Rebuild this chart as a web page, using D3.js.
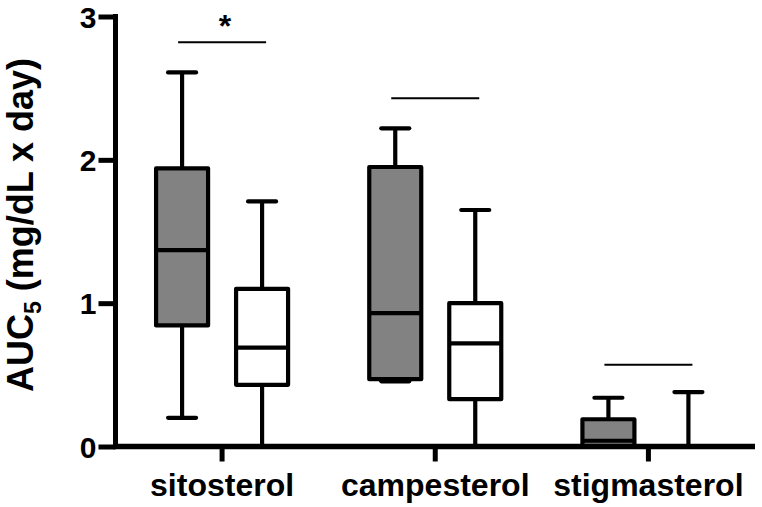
<!DOCTYPE html>
<html>
<head>
<meta charset="utf-8">
<script src="https://cdn.jsdelivr.net/npm/d3@7"></script>
<style>
  body { margin: 0; background: #fff; }
  svg { display: block; }
  text { font-family: "Liberation Sans", Arial, sans-serif; font-weight: bold; fill: #000; }
</style>
</head>
<body>
<svg id="chart" width="762" height="507"></svg>
<script>
// ---- data ----
const categories = ["sitosterol", "campesterol", "stigmasterol"];
const groups = ["gray", "white"];
const groupFill = ["#828282", "#ffffff"];
// box stats per category: [min, q1, median, q3, max]
const grayStats = [
  [0.20, 0.845, 1.37, 1.94, 2.61],
  [0.455, 0.47, 0.93, 1.95, 2.22],
  [0.0, 0.0, 0.04, 0.19, 0.34]
];
const whiteStats = [
  [0.0, 0.43, 0.69, 1.10, 1.71],
  [0.0, 0.33, 0.72, 1.00, 1.65],
  [0.0, 0.0, 0.0, 0.0, 0.38]
];
const sigLevels = [2.82, 2.43, 0.57];
const sigLabels = ["*", "", ""];
const yTicks = [0, 1, 2, 3];

// ---- scales ----
const svg = d3.select("#chart");
const y = d3.scaleLinear().domain([0, 3]).range([446.5, 16.5]);
const x = d3.scaleBand().domain(categories).range([115.5, 755]).padding(0);
const xg = d3.scalePoint().domain(groups).range([-40, 40]);
const boxW = 52, capW = 28, sw = 4.2;

// ---- boxes ----
const boxes = [];
categories.forEach((c, i) => {
  boxes.push({cat: c, g: "gray", s: grayStats[i], fill: groupFill[0]});
  boxes.push({cat: c, g: "white", s: whiteStats[i], fill: groupFill[1]});
});
const bx = d => x(d.cat) + x.bandwidth() / 2 + xg(d.g);

const bg = svg.append("g").selectAll("g").data(boxes).join("g");
// whiskers
bg.append("line").attr("x1", bx).attr("x2", bx)
  .attr("y1", d => y(d.s[0])).attr("y2", d => y(d.s[1]))
  .attr("stroke", "#000").attr("stroke-width", sw);
bg.append("line").attr("x1", bx).attr("x2", bx)
  .attr("y1", d => y(d.s[3])).attr("y2", d => y(d.s[4]))
  .attr("stroke", "#000").attr("stroke-width", sw);
// caps
bg.append("line").attr("x1", d => bx(d) - capW / 2).attr("x2", d => bx(d) + capW / 2)
  .attr("y1", d => y(d.s[0])).attr("y2", d => y(d.s[0]))
  .attr("stroke", "#000").attr("stroke-width", sw).attr("stroke-linecap", "round");
bg.append("line").attr("x1", d => bx(d) - capW / 2).attr("x2", d => bx(d) + capW / 2)
  .attr("y1", d => y(d.s[4])).attr("y2", d => y(d.s[4]))
  .attr("stroke", "#000").attr("stroke-width", sw).attr("stroke-linecap", "round");
// box
bg.append("rect").attr("x", d => bx(d) - boxW / 2).attr("width", boxW)
  .attr("y", d => y(d.s[3])).attr("height", d => y(d.s[1]) - y(d.s[3]))
  .attr("fill", d => d.fill).attr("stroke", "#000").attr("stroke-width", sw)
  .attr("stroke-linejoin", "round");
// median
bg.append("line").attr("x1", d => bx(d) - boxW / 2).attr("x2", d => bx(d) + boxW / 2)
  .attr("y1", d => y(d.s[2])).attr("y2", d => y(d.s[2]))
  .attr("stroke", "#000").attr("stroke-width", sw);

// ---- significance lines ----
const sg = svg.append("g").selectAll("g").data(categories).join("g");
sg.append("line")
  .attr("x1", (c) => x(c) + x.bandwidth() / 2 - 44)
  .attr("x2", (c) => x(c) + x.bandwidth() / 2 + 44)
  .attr("y1", (c, i) => y(sigLevels[i])).attr("y2", (c, i) => y(sigLevels[i]))
  .attr("stroke", "#000").attr("stroke-width", 2);
sg.append("text")
  .attr("x", (c) => x(c) + x.bandwidth() / 2 + 3)
  .attr("y", (c, i) => y(sigLevels[i]) - 5)
  .attr("text-anchor", "middle").style("font-size", "32px")
  .text((c, i) => sigLabels[i]);

// ---- axes ----
const yAxis = svg.append("g").attr("transform", "translate(115.5,0)")
  .call(d3.axisLeft(y).tickValues(yTicks).tickFormat(d3.format("d")).tickSize(17).tickPadding(2));
yAxis.select(".domain").remove();
yAxis.selectAll(".tick line").attr("stroke", "#000").attr("stroke-width", 5);
yAxis.selectAll(".tick text").style("font-size", "30px").attr("dy", "0.36em").attr("fill", "#000");
yAxis.append("line").attr("x1", 0).attr("x2", 0).attr("y1", y(3) - 2.5).attr("y2", y(0) + 2.5)
  .attr("stroke", "#000").attr("stroke-width", 5);

const xAxis = svg.append("g").attr("transform", `translate(0,${y(0)})`)
  .call(d3.axisBottom(x).tickSize(15).tickPadding(12));
xAxis.select(".domain").remove();
xAxis.selectAll(".tick line").attr("stroke", "#000").attr("stroke-width", 5);
xAxis.selectAll(".tick text").style("font-size", "32px").attr("fill", "#000");
xAxis.append("line").attr("x1", 113).attr("x2", 755).attr("y1", 0).attr("y2", 0)
  .attr("stroke", "#000").attr("stroke-width", 5.5);

// ---- y label ----
const yl = svg.append("text").attr("transform", "translate(33,225) rotate(-90)")
  .attr("text-anchor", "middle").style("font-size", "36px");
yl.append("tspan").text("AUC");
yl.append("tspan").text("5").style("font-size", "23px").attr("dy", "8");
yl.append("tspan").text(" (mg/dL x day)").attr("dy", "-8");
</script>
</body>
</html>
